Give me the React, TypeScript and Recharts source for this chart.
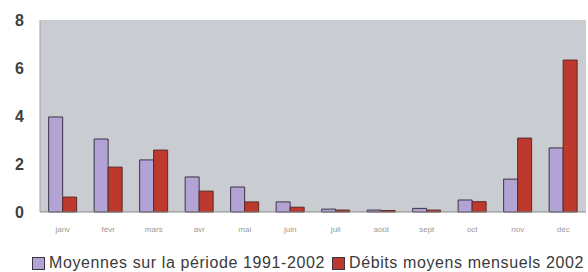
import React from "react";
import { BarChart, Bar, XAxis, YAxis, CartesianGrid, Legend } from "recharts";

// Mois et débits
const months = ["janv", "févr", "mars", "avr", "mai", "juin", "juil", "août", "sept", "oct", "nov", "déc"];
const moyennes = [3.96, 3.04, 2.17, 1.46, 1.04, 0.42, 0.12, 0.08, 0.15, 0.5, 1.37, 2.67];
const debits2002 = [0.62, 1.87, 2.58, 0.87, 0.42, 0.2, 0.08, 0.06, 0.08, 0.43, 3.08, 6.33];
const yTicks = [0, 2, 4, 6, 8];

const data = months.map((m, i) => ({ mois: m, moy: moyennes[i], deb: debits2002[i] }));

const PURPLE = "#b3a3d5";
const RED = "#bd382d";

function LegendBox() {
  const item = (color: string, label: string) => (
    <div style={{ display: "flex", alignItems: "center", marginRight: 7 }}>
      <span
        style={{
          display: "inline-block",
          width: 11,
          height: 11,
          background: color,
          border: "1px solid #3b3348",
          marginRight: 4,
        }}
      />
      <span style={{ fontSize: 16, lineHeight: "18px", letterSpacing: 0.6, color: "#3a3a3a", whiteSpace: "nowrap" }}>{label}</span>
    </div>
  );
  return (
    <div
      style={{
        display: "flex",
        alignItems: "center",
        boxSizing: "border-box",
        height: 40,
        paddingTop: 22,
        paddingLeft: 32,
        fontFamily: "Liberation Sans, Arial, sans-serif",
      }}
    >
      {item(PURPLE, "Moyennes sur la période 1991-2002")}
      {item(RED, "Débits moyens mensuels 2002")}
    </div>
  );
}

export default function App() {
  return (
    <div style={{ position: "absolute", left: 0, top: 0, width: 588, height: 272, background: "#fff", overflow: "hidden" }}>
      <BarChart
        width={588}
        height={272}
        data={data}
        margin={{ top: 20, right: 2, left: 0, bottom: 0 }}
        barGap={0}
        barCategoryGap="19%"
        style={{ fontFamily: "Liberation Sans, Arial, sans-serif" }}
      >
        <CartesianGrid horizontal={false} vertical={false} fill="#c9ccd1" />
        <XAxis
          dataKey="mois"
          height={20}
          axisLine={{ stroke: "#8a8a8a" }}
          tickLine={false}
          tickSize={0}
          tickMargin={14}
          tick={{ fontSize: 8, fill: "#999999" }}
          interval={0}
        />
        <XAxis xAxisId="top" orientation="top" dataKey="mois" height={0} tick={false} tickLine={false} axisLine={{ stroke: "#999999", strokeWidth: 1.5 }} />
        <YAxis
          domain={[0, 8]}
          ticks={yTicks}
          width={40}
          axisLine={{ stroke: "#a3a3a3" }}
          tickLine={false}
          tickSize={0}
          tickMargin={16}
          tick={{ fontSize: 16, fill: "#3f3f3f", fontWeight: 600 }}
        />
        <YAxis yAxisId="right" orientation="right" domain={[0, 8]} width={0} tick={false} tickLine={false} axisLine={{ stroke: "#a3a3a3" }} />
        <Legend verticalAlign="bottom" height={40} content={() => <LegendBox />} wrapperStyle={{ margin: 0, padding: 0 }} />
        <Bar dataKey="moy" name="Moyennes sur la période 1991-2002" fill={PURPLE} stroke="#3b3348" strokeWidth={1} isAnimationActive={false} />
        <Bar dataKey="deb" name="Débits moyens mensuels 2002" fill={RED} stroke="#5a2a28" strokeWidth={1} isAnimationActive={false} />
      </BarChart>
    </div>
  );
}
